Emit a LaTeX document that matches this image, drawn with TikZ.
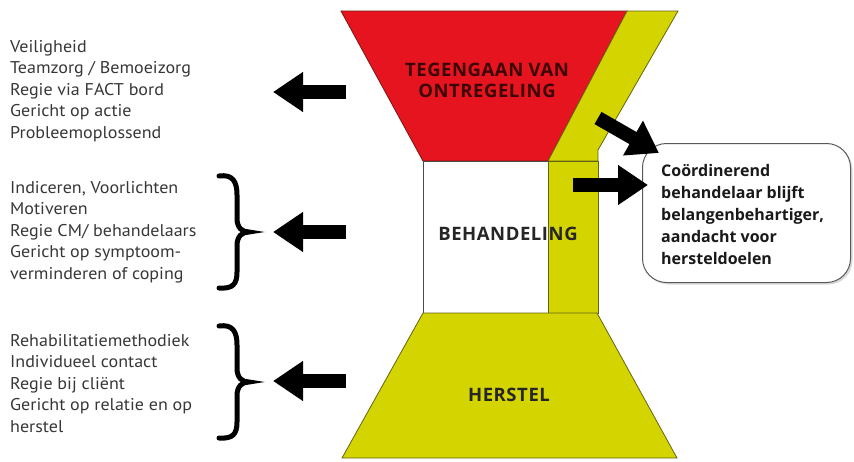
\documentclass[tikz,border=0pt]{standalone}
\usepackage{fontspec}
\setmainfont[FakeStretch=1.06]{PT Sans}
\newfontfamily\labfont[LetterSpace=3]{Open Sans}
\newfontfamily\boxfont{Open Sans}
\usetikzlibrary{arrows.meta,shadows}
\definecolor{myred}{RGB}{230,20,30}
\definecolor{myyel}{RGB}{212,212,0}
\definecolor{yedge}{RGB}{100,100,20}
\definecolor{redge}{RGB}{120,20,20}
\definecolor{txtgray}{RGB}{55,55,55}
\definecolor{labred}{RGB}{60,5,5}
\tikzset{
  fatarrow/.style={line width=14pt,-{Triangle[width=38pt,length=30pt]},black},
  bracepath/.style={line width=5pt,black,line cap=round},
  listtext/.style={anchor=north west,align=left,text=txtgray,font=\fontsize{17}{21.5}\selectfont,inner sep=0pt},
  shapelabel/.style={font=\labfont\bfseries\fontsize{18.5}{21}\selectfont,text=black!85,align=center},
  infobox/.style={draw=gray!70!black,line width=1pt,rounded corners=24pt,fill=white,drop shadow={shadow xshift=2pt,shadow yshift=-2pt,opacity=0.3}}
}
\begin{document}
\begin{tikzpicture}[x=1pt,y=-1pt]
\useasboundingbox (0,0) rectangle (854,461);
% top red trapezoid
\fill[myred,draw=redge,line width=0.8pt] (341,11) -- (627,11) -- (548,161) -- (423,161) -- cycle;
% yellow strip
\fill[myyel,draw=yedge,line width=0.8pt] (627,11) -- (678,11) -- (598,150) -- (598,161) -- (548,161) -- cycle;
% middle
\draw[gray!60!black,line width=0.8pt,fill=white] (423,161) rectangle (548,313);
\fill[myyel,draw=yedge,line width=0.8pt] (548,161) rectangle (598,313);
% bottom trapezoid
\fill[myyel,draw=yedge,line width=0.8pt] (423,313) -- (597,313) -- (677,458) -- (342,458) -- cycle;
% labels
\node[shapelabel,text=labred] (top) at (487,80) {TEGENGAAN VAN\\ONTREGELING};
\node[shapelabel] (mid) at (508,234) {BEHANDELING};
\node[shapelabel] (bot) at (509,395) {HERSTEL};
% info box
\node[infobox,minimum width=208pt,minimum height=139pt,anchor=north west] (box) at (642,143) {};
\node[anchor=north west,align=left,font=\boxfont\bfseries\fontsize{16}{22}\selectfont,inner sep=0pt,text=black!90] (boxtext) at (661,164)
 {Coördinerend\\behandelaar blijft\\belangenbehartiger,\\aandacht voor\\hersteldoelen};
% left lists
\node[listtext] (l1) at (10,40) {Veiligheid\\Teamzorg / Bemoeizorg\\Regie via FACT bord\\Gericht op actie\\Probleemoplossend};
\node[listtext] (l2) at (10,181) {Indiceren, Voorlichten\\Motiveren\\Regie CM/ behandelaars\\Gericht op symptoom-\\verminderen of coping};
\node[listtext] (l3) at (10,334) {Rehabilitatiemethodiek\\Individueel contact\\Regie bij cliënt\\Gericht op relatie en op\\herstel};
% arrows
\coordinate (a1s) at (346,92); \coordinate (a1e) at (273,92);
\coordinate (a2s) at (346,232); \coordinate (a2e) at (273,232);
\coordinate (a3s) at (346,381); \coordinate (a3e) at (273,381);
\draw[fatarrow] (a1s) -- (a1e);
\draw[fatarrow] (a2s) -- (a2e);
\draw[fatarrow] (a3s) -- (a3e);
\coordinate (r1s) at (598,118); \coordinate (r1e) at (659,153);
\coordinate (r2s) at (573,185); \coordinate (r2e) at (648,185);
\draw[fatarrow] (r1s) -- (r1e);
\draw[fatarrow] (r2s) -- (r2e);
% braces
\draw[bracepath] (219,176) .. controls (233,174) and (237,182) .. (237,195) -- (237,218) .. controls (237,228) and (242,232) .. (249,232) .. controls (242,232) and (237,236) .. (237,246) -- (237,272) .. controls (237,284) and (233,289) .. (219,288);
\draw[bracepath] (219,326) .. controls (233,324) and (237,332) .. (237,345) -- (237,368) .. controls (237,378) and (242,382) .. (249,382) .. controls (242,382) and (237,386) .. (237,396) -- (237,422) .. controls (237,434) and (233,439) .. (219,438);
\end{tikzpicture}
\end{document}
